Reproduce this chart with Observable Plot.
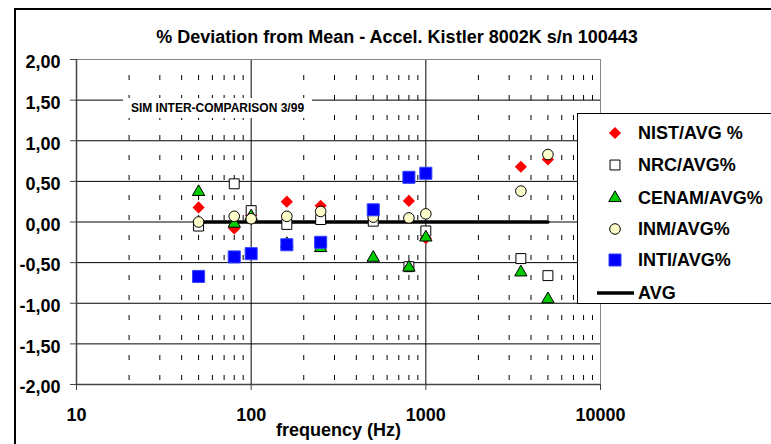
<!DOCTYPE html>
<html>
<head>
<meta charset="utf-8">
<script src="https://cdn.jsdelivr.net/npm/d3@7"></script>
<script src="https://cdn.jsdelivr.net/npm/@observablehq/plot@0.6"></script>
<style>
  html, body { margin: 0; padding: 0; background: #fff; }
  #wrap { position: relative; width: 771px; height: 444px; overflow: hidden; font-family: "Liberation Sans", Arial, sans-serif; }
  #border { position: absolute; left: 14px; top: 8px; width: 900px; height: 600px; border-left: 2px solid #000; border-top: 2px solid #000; }
  #chart { position: absolute; left: 0; top: 0; }
  #title { position: absolute; left: 397px; top: 27px; transform: translateX(-50%); white-space: nowrap; font-size: 18px; font-weight: bold; line-height: 20px; color: #000; }
  #sim { position: absolute; left: 123px; top: 98px; width: 189px; height: 20px; background: #fff; text-align: center; font-size: 12px; font-weight: bold; line-height: 20px; color: #000; white-space: nowrap; }
  #legend { position: absolute; left: 577px; top: 113px; width: 220px; height: 189px; background: #fff; border: 1px solid #000; }
</style>
</head>
<body>
<div id="wrap">
  <div id="border"></div>
  <div id="chart"></div>
  <div id="title">% Deviation from Mean - Accel. Kistler 8002K s/n 100443</div>
  <div id="sim">SIM INTER-COMPARISON 3/99</div>
  <div id="legend"></div>
</div>
<script>
// ---- data ----
const frequencies = [50, 80, 100, 160, 250, 500, 800, 1000, 3500, 5000];
const nistAvg  = [0.18, -0.08, 0.08, 0.25, 0.20, 0.12, 0.26, -0.20, 0.68, 0.77];
const nrcAvg   = [-0.05, 0.47, 0.14, -0.03, 0.03, 0.01, -0.55, -0.11, -0.45, -0.66];
const cenamAvg = [0.37, -0.02, 0.07, -0.27, -0.32, -0.44, -0.56, -0.19, -0.62, -0.95];
const inmAvg   = [0.00, 0.07, 0.04, 0.07, 0.13, 0.06, 0.05, 0.10, 0.38, 0.83];
const intiAvg  = [-0.67, -0.43, -0.39, -0.28, -0.25, 0.15, 0.55, 0.60, null, null];
const avgLine  = [0, 0, 0, 0, 0, 0, 0, 0, 0, 0];

const seriesNames = ["NIST/AVG %", "NRC/AVG%", "CENAM/AVG%", "INM/AVG%", "INTI/AVG%", "AVG"];
const xTicks = [10, 100, 1000, 10000];
const xMajorGrid = [100, 1000];
const xMinorGrid = [20, 30, 40, 50, 60, 70, 80, 90, 200, 300, 400, 500, 600, 700, 800, 900, 2000, 3000, 4000, 5000, 6000, 7000, 8000, 9000];
const yTicks = [-2, -1.5, -1, -0.5, 0, 0.5, 1, 1.5, 2];
const yGrid = [-1.5, -1, -0.5, 0, 0.5, 1, 1.5];

// ---- styles ----
const styles = [
  {name: seriesNames[0], values: nistAvg,  symbol: "diamond2", r: 5.5, fill: "#ff0000", stroke: "none"},
  {name: seriesNames[1], values: nrcAvg,   symbol: "square",   r: 5.6, fill: "#ffffff", stroke: "#000"},
  {name: seriesNames[2], values: cenamAvg, symbol: "triangle", r: 4.6, fill: "#00cc00", stroke: "#000"},
  {name: seriesNames[3], values: inmAvg,   symbol: "circle",   r: 5.3, fill: "#ffffcc", stroke: "#000"},
  {name: seriesNames[4], values: intiAvg,  symbol: "square",   r: 6.8, fill: "#0000ff", stroke: "#3344ff"}
];

const rows = s => frequencies.map((f, i) => ({f, v: s.values[i]})).filter(d => d.v != null);
const avgRows = frequencies.map((f, i) => ({f, v: avgLine[i]}));
const fmt = d => d.toFixed(2).replace(".", ",");

const font = {fontSize: 18, fontWeight: "bold", fontFamily: "Liberation Sans, Arial, sans-serif", fill: "#000"};

const chart = Plot.plot({
  width: 771,
  height: 444,
  marginLeft: 76,
  marginRight: 171,
  marginTop: 59,
  marginBottom: 60,
  style: {background: "transparent", overflow: "visible"},
  x: {type: "log", domain: [10, 10000]},
  y: {domain: [-2, 2]},
  marks: [
    Plot.ruleX(xMinorGrid, {stroke: "#000", strokeWidth: 1, strokeDasharray: "5,15", strokeDashoffset: 4}),
    Plot.ruleX(xMajorGrid, {stroke: "#000", strokeWidth: 1}),
    Plot.ruleY(yGrid, {stroke: "#000", strokeWidth: 1}),
    Plot.frame({stroke: "#888"}),
    Plot.ruleX([10], {stroke: "#444", strokeWidth: 1.5}),
    Plot.ruleY([-2], {stroke: "#444", strokeWidth: 1.5}),
    Plot.axisY({ticks: yTicks, tickSize: 6, tickFormat: () => "", label: null, stroke: "#444"}),
    Plot.text(yTicks, {y: d => d, frameAnchor: "left", dx: -16, dy: 3, textAnchor: "end", text: fmt, ...font}),
    Plot.axisX({ticks: xTicks, tickSize: 6, tickPadding: 18, tickFormat: d => String(d), label: null, stroke: "#444", ...font}),
    Plot.text(["frequency (Hz)"], {frameAnchor: "bottom", dy: 51, text: d => d, ...font}),
    Plot.line(avgRows, {x: "f", y: "v", stroke: "#000", strokeWidth: 3.5}),
    ...styles.map(s => Plot.dot(rows(s), {x: "f", y: "v", symbol: () => s.symbol, r: s.r, fill: s.fill, stroke: s.stroke, strokeWidth: 1}))
  ]
});
document.getElementById("chart").appendChild(chart);

// ---- legend ----
const leg = d3.select("#legend").append("svg").attr("width", 220).attr("height", 189);
const rowY = [19, 51, 84, 115, 146, 179];
styles.forEach((s, i) => {
  const sym = d3.symbol().type({diamond2: d3.symbolDiamond2, square: d3.symbolSquare, triangle: d3.symbolTriangle, circle: d3.symbolCircle}[s.symbol]).size(Math.PI * s.r * s.r);
  leg.append("path").attr("d", sym()).attr("transform", `translate(37,${rowY[i]})`)
    .attr("fill", s.fill).attr("stroke", s.stroke).attr("stroke-width", 1);
});
leg.append("line").attr("x1", 19).attr("x2", 56).attr("y1", rowY[5]).attr("y2", rowY[5]).attr("stroke", "#000").attr("stroke-width", 3.5);
seriesNames.forEach((n, i) => {
  leg.append("text").attr("x", 60).attr("y", rowY[i]).attr("dy", "0.36em")
    .attr("font-size", 18).attr("font-weight", "bold").attr("font-family", "Liberation Sans, Arial, sans-serif").text(n);
});
</script>
</body>
</html>
